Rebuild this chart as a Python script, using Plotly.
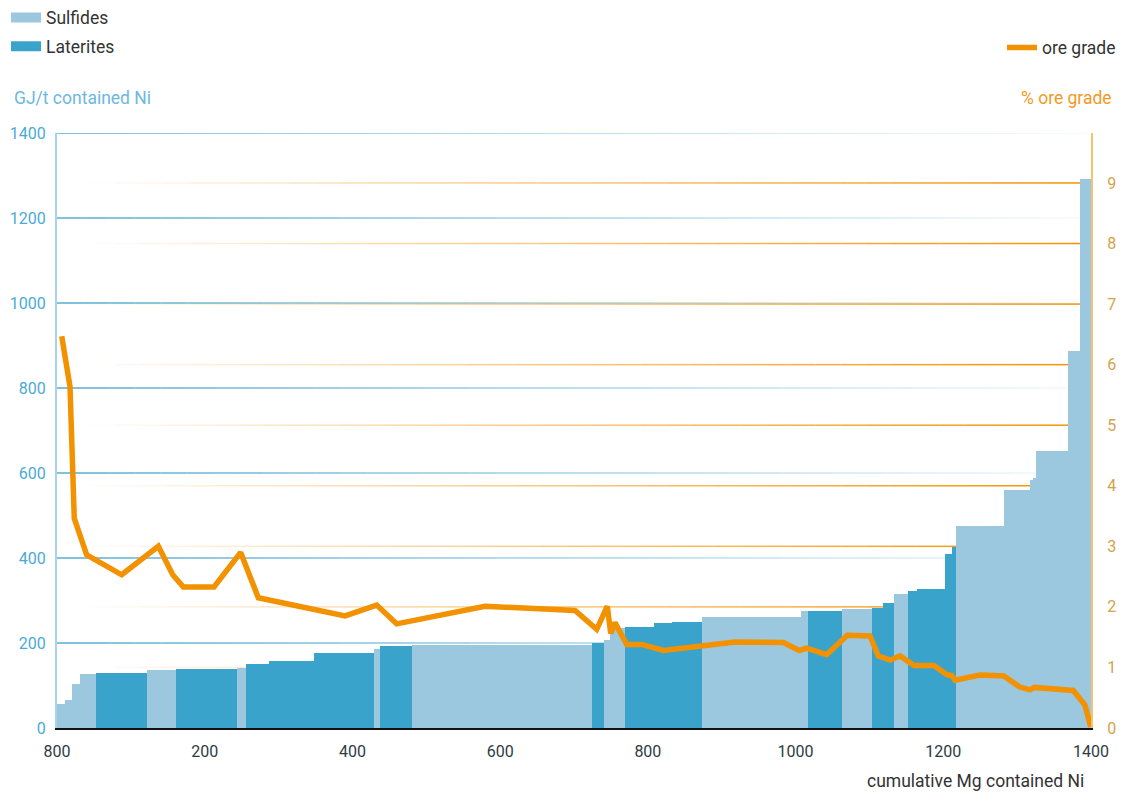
import numpy as np
import plotly.graph_objects as go

# ---------------- data ----------------
deposit_widths = [10.8, 9.9, 10.4, 21.7, 69.1, 39.2, 23.0, 59.6, 12.2, 31.5, 60.6, 81.2, 8.1,
                  43.4, 243.7, 16.6, 7.7, 20.3, 39.3, 24.0, 40.6, 134.4, 9.1, 46.0, 41.1, 14.5,
                  15.2, 19.4, 11.4, 38.3, 9.9, 5.0, 65.4, 34.8, 3.6, 4.5, 43.8, 15.8, 14.9]
deposit_energy = [56, 67, 103, 127, 129, 136, 139, 140, 141, 150, 158, 176, 187,
                  192, 196, 201, 207, 235, 238, 248, 250, 262, 275, 276, 281, 283,
                  295, 315, 322, 327, 409, 426, 475, 559, 583, 588, 652, 888, 1292]
deposit_type = ["S", "S", "S", "S", "L", "S", "L", "L", "S", "L", "L", "L", "S",
                "L", "S", "L", "S", "S", "L", "L", "L", "S", "S", "L", "S", "L",
                "L", "S", "L", "L", "L", "L", "S", "S", "S", "S", "S", "S", "S"]

grade_x = [6.4, 17.6, 23.4, 40.2, 87.6, 137.2, 156.7, 171.0, 212.6, 248.7, 272.6, 390.0,
           432.9, 459.9, 579.5, 701.4, 730.7, 745.1, 749.7, 755.5, 771.4, 791.7, 820.9,
           918.0, 983.4, 1005.1, 1015.1, 1042.1, 1070.0, 1100.8, 1112.0, 1127.8, 1141.4,
           1160.4, 1187.4, 1205.4, 1211.4, 1215.8, 1249.7, 1282.2, 1302.9, 1317.4, 1323.2,
           1376.0, 1391.8, 1399.6]
grade_pct = [6.47, 5.64, 3.46, 2.86, 2.53, 3.0, 2.53, 2.33, 2.33, 2.9, 2.15, 1.85,
             2.03, 1.72, 2.01, 1.94, 1.63, 2.01, 1.56, 1.74, 1.38, 1.38, 1.28,
             1.42, 1.41, 1.28, 1.32, 1.21, 1.53, 1.52, 1.19, 1.12, 1.19,
             1.03, 1.03, 0.875, 0.87, 0.79, 0.875, 0.86, 0.68, 0.63, 0.67,
             0.62, 0.38, 0.02]

x_tick_vals = [0, 200, 400, 600, 800, 1000, 1200, 1400]
x_tick_text = ["800", "200", "400", "600", "800", "1000", "1200", "1400"]
left_ticks = [0, 200, 400, 600, 800, 1000, 1200, 1400]
right_ticks = [0, 1, 2, 3, 4, 5, 6, 7, 8, 9]

# ---------------- styles ----------------
C_SULF = "#9BC7DF"
C_LAT = "#3AA3CB"
C_ORE = "#F39200"
FONT = "Roboto"
TXT = 17.5

widths = np.array(deposit_widths)
starts = np.concatenate([[0], np.cumsum(widths)[:-1]])
centers = starts + widths / 2
types = np.array(deposit_type)
heights = np.array(deposit_energy)

fig = go.Figure()

for code, name, color in [("S", "Sulfides", C_SULF), ("L", "Laterites", C_LAT)]:
    m = types == code
    fig.add_trace(go.Bar(
        x=centers[m], y=heights[m], width=widths[m],
        marker=dict(color=color, line=dict(width=0)),
        name=name, showlegend=False, legendgroup=name,
    ))
    fig.add_trace(go.Scatter(
        x=[None], y=[None], mode="lines", name=name, legendgroup=name,
        line=dict(color=color, width=10), legend="legend",
    ))

fig.add_trace(go.Scatter(
    x=grade_x, y=grade_pct, mode="lines", name="ore grade", yaxis="y2",
    line=dict(color=C_ORE, width=5.5), legend="legend2",
))

x_max = 1400
y2_max = 9.825

# gradient gridlines (drawn as short segments with varying opacity)
shapes = []
N = 40
seg = np.linspace(0, x_max, N + 1)
for v in left_ticks[1:]:
    for i in range(N):
        a = 1.0 - 0.95 * (i + 0.5) / N
        shapes.append(dict(type="line", xref="x", yref="y", x0=seg[i], x1=seg[i + 1],
                           y0=v, y1=v, layer="below",
                           line=dict(color=f"rgba(58,160,203,{a:.3f})", width=1.3)))
seg2 = np.linspace(45, x_max, N + 1)
for v in right_ticks[1:]:
    for i in range(N):
        a = min(1.0, ((i + 0.5) / N) ** 0.9)
        shapes.append(dict(type="line", xref="x", yref="y2", x0=seg2[i], x1=seg2[i + 1],
                           y0=v, y1=v, layer="below",
                           line=dict(color=f"rgba(243,146,0,{a:.3f})", width=1.5)))

fig.update_layout(
    width=1110, height=785,
    margin=dict(l=49, r=27, t=125, b=65, autoexpand=False),
    paper_bgcolor="white", plot_bgcolor="white",
    barmode="overlay", bargap=0,
    font=dict(family=FONT, size=16, color="#333333"),
    shapes=shapes,
    xaxis=dict(range=[0, x_max], tickvals=x_tick_vals, ticktext=x_tick_text,
               showgrid=False, zeroline=False, showline=True, linecolor="#111111",
               linewidth=2, ticks="outside", ticklen=8, tickcolor="rgba(0,0,0,0)",
               tickfont=dict(size=16, color="#2E3B43")),
    yaxis=dict(range=[0, 1400], tickvals=left_ticks, showgrid=False, zeroline=False,
               showline=True, linecolor="#A5D3EA", linewidth=2, ticks="outside",
               ticklen=6, tickcolor="rgba(0,0,0,0)",
               tickfont=dict(size=16, color="#49ABD6")),
    yaxis2=dict(range=[0, y2_max], tickvals=right_ticks, overlaying="y", side="right",
                showgrid=False, zeroline=False, showline=True, linecolor="#F5C36E",
                linewidth=2, ticks="outside", ticklen=11, tickcolor="rgba(0,0,0,0)",
                tickfont=dict(size=16, color="#D3A34A")),
    legend=dict(x=-0.0493, y=1.224, xanchor="left", yanchor="top",
                bgcolor="rgba(0,0,0,0)", font=dict(size=TXT, color="#333333"),
                traceorder="grouped", tracegroupgap=3, itemwidth=30),
    legend2=dict(x=1.029, y=1.1434, xanchor="right", yanchor="middle",
                 bgcolor="rgba(0,0,0,0)", font=dict(size=TXT, color="#333333"),
                 itemwidth=30),
    annotations=[
        dict(text="GJ/t contained Ni", xref="paper", yref="paper", x=-0.0435, y=1.0588,
             xanchor="left", yanchor="middle", showarrow=False,
             font=dict(size=TXT, color="#6DB8DE")),
        dict(text="% ore grade", xref="paper", yref="paper", x=1.0222, y=1.0588,
             xanchor="right", yanchor="middle", showarrow=False,
             font=dict(size=TXT, color="#F39A1E")),
        dict(text="cumulative Mg contained Ni", xref="paper", yref="paper", x=0.9952,
             y=-0.1089, xanchor="right", yanchor="bottom", showarrow=False,
             font=dict(size=TXT, color="#333333")),
    ],
)

fig.write_html("out.html")
